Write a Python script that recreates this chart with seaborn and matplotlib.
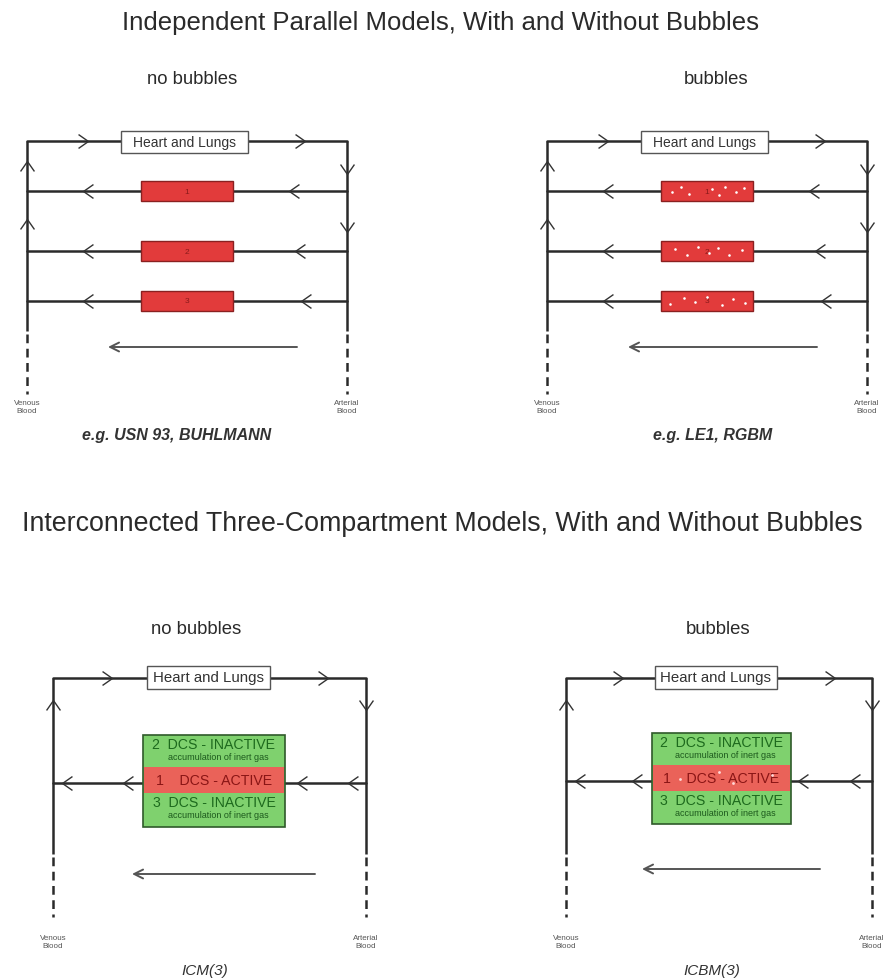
import numpy as np
import pandas as pd
import seaborn as sns
import matplotlib
matplotlib.use("Agg")
import matplotlib.pyplot as plt
from matplotlib.path import Path
from matplotlib.patches import Rectangle

# ---------------- content (text / values) ----------------
section_titles = ["Independent Parallel Models, With and Without Bubbles",
                  "Interconnected Three-Compartment Models, With and Without Bubbles"]
panel_labels = ["no bubbles", "bubbles", "no bubbles", "bubbles"]
panel_examples = ["e.g. USN 93, BUHLMANN", "e.g. LE1, RGBM", "ICM(3)", "ICBM(3)"]
parallel_compartments = ["1", "2", "3"]
icm_main = ["2  DCS - INACTIVE", "1    DCS - ACTIVE", "3  DCS - INACTIVE"]
icm_sub = ["accumulation of inert gas", "", "accumulation of inert gas"]
heart_label = "Heart and Lungs"
venous_label = "Venous\nBlood"
arterial_label = "Arterial\nBlood"
# bubble positions as fractions of a red compartment (x, y), one list per row
bubble_fx = [[0.12, 0.22, 0.30, 0.55, 0.63, 0.70, 0.82, 0.90],
             [0.15, 0.28, 0.40, 0.52, 0.62, 0.74, 0.88],
             [0.10, 0.25, 0.37, 0.50, 0.66, 0.78, 0.91]]
bubble_fy = [[0.55, 0.30, 0.65, 0.40, 0.70, 0.30, 0.55, 0.35],
             [0.40, 0.70, 0.30, 0.60, 0.35, 0.70, 0.45],
             [0.65, 0.35, 0.55, 0.30, 0.70, 0.40, 0.60]]
band_bubble_fx = [0.20, 0.48, 0.58, 0.86]
band_bubble_fy = [0.55, 0.25, 0.70, 0.40]

# ---------------- layout (pixel frame) ----------------
W, H = 884, 979
C_LINE = "#2a2a2a"
C_RED = "#e23b3b"
C_RED_EDGE = "#8a2020"
C_GREEN = "#7fd16e"
C_BAND = "#ea6259"

sns.set_theme(style="white")
plt.rcParams["font.family"] = ["Liberation Sans", "DejaVu Sans"]

fig = plt.figure(figsize=(W / 100, H / 100), dpi=100)
ax = fig.add_axes([0, 0, 1, 1])
ax.set_xlim(0, W)
ax.set_ylim(H, 0)
ax.axis("off")


def chev(direction):
    if direction == "r":
        v = [(-0.5, 0.7), (0.5, 0.0), (-0.5, -0.7)]
    elif direction == "l":
        v = [(0.5, 0.7), (-0.5, 0.0), (0.5, -0.7)]
    elif direction == "u":  # screen up (y axis inverted)
        v = [(-0.7, -0.5), (0.0, 0.5), (0.7, -0.5)]
    else:
        v = [(-0.7, 0.5), (0.0, -0.5), (0.7, 0.5)]
    return Path(v, [Path.MOVETO, Path.LINETO, Path.LINETO])


def arrows(xs, ys, d, ms=10):
    ax.plot(xs, ys, linestyle="none", marker=chev(d), ms=ms, mfc="none",
            mec="#333333", mew=1.0, zorder=4)


def frame(xl, xr, ytop, ysolid, ybot, hx0, hx1, hy0, hy1, hfs, lab_y):
    for x in (xl, xr):
        ax.plot([x, x], [ytop, ysolid], color=C_LINE, lw=1.8, solid_capstyle="butt", zorder=2)
        ax.plot([x, x], [ysolid + 3, ybot], color=C_LINE, lw=1.8, dashes=(3.5, 2.2), zorder=2)
    ax.plot([xl, xr], [ytop, ytop], color=C_LINE, lw=1.8, zorder=2)
    ax.add_patch(Rectangle((hx0, hy0), hx1 - hx0, hy1 - hy0, facecolor="white",
                           edgecolor="#555555", lw=1.0, zorder=5))
    ax.text((hx0 + hx1) / 2, (hy0 + hy1) / 2, heart_label, ha="center", va="center",
            fontsize=hfs, color="#333333", zorder=6)
    ax.text(xl, lab_y, venous_label, ha="center", va="center", fontsize=5.8,
            color="#555555", linespacing=1.2)
    ax.text(xr, lab_y, arterial_label, ha="center", va="center", fontsize=5.8,
            color="#555555", linespacing=1.2)


def long_arrow(x0, x1, y):
    ax.annotate("", xy=(x1, y), xytext=(x0, y),
                arrowprops=dict(arrowstyle="->", lw=1.4, color="#555555",
                                mutation_scale=16, shrinkA=0, shrinkB=0))


# ---------------- section titles ----------------
ax.text(440, 23, section_titles[0], ha="center", va="center", fontsize=18.5, color="#2a2a2a")
ax.text(442, 524, section_titles[1], ha="center", va="center", fontsize=19.3, color="#2a2a2a")

# ---------------- top panels: parallel ----------------
row_y = [192, 252, 302]
for p, (xl, xr, bx0, bx1, hx0, hx1, lab_x, ex_x) in enumerate([
        (27, 347, 141, 233, 121, 248, 192, 177),
        (547, 867, 661, 753, 641, 768, 716, 713)]):
    bubbles = p == 1
    ax.text(lab_x, 80, panel_labels[p], ha="center", va="center", fontsize=13.3, color="#2a2a2a")
    frame(xl, xr, 142, 332, 395, hx0, hx1, 132, 154, 10.0, 408)
    arrows([xl + 56, xr - 47], [142, 142], "r")
    arrows([xl, xl], [167, 225], "u")
    arrows([xr, xr], [170, 228], "d")
    for i, (y, name) in enumerate(zip(row_y, parallel_compartments)):
        ax.plot([xl, xr], [y, y], color=C_LINE, lw=1.8, zorder=2)
        ax.add_patch(Rectangle((bx0, y - 10), bx1 - bx0, 20, facecolor=C_RED,
                               edgecolor=C_RED_EDGE, lw=1.0, zorder=5))
        ax.text((bx0 + bx1) / 2, y, name, ha="center", va="center", fontsize=6,
                color="#8a1a1a", zorder=6)
        arrows([xl + 61], [y], "l")
        arrows([xr - 53 + 6 * i], [y], "l")
        if bubbles:
            bx = [bx0 + f * (bx1 - bx0) for f in bubble_fx[i]]
            by = [y - 10 + f * 20 for f in bubble_fy[i]]
            ax.scatter(bx, by, s=3.5, color="white", zorder=7, linewidths=0)
    long_arrow(xr - 50, xl + 81, 348)
    ax.text(ex_x, 436, panel_examples[p], ha="center", va="center", fontsize=11.5,
            style="italic", weight="bold", color="#333333")

# ---------------- bottom panels: interconnected ----------------
for p, (xl, xr, gx0, gx1, gy0, gy1, hx0, hx1, mid_y, la, lab_x, ex_x, arr) in enumerate([
        (53, 366, 143, 285, 736, 828, 147, 270, 784, (315, 132, 875), 196, 205,
         (67, 128, 302, 353, 107, 323)),
        (566, 872, 652, 791, 734, 825, 655, 777, 782, (820, 642, 870), 718, 712,
         (580, 637, 803, 855, 618, 830))]):
    bubbles = p == 1
    ax.text(lab_x, 630, panel_labels[p + 2], ha="center", va="center", fontsize=13.3, color="#2a2a2a")
    frame(xl, xr, 679, 855, 918, hx0, hx1, 667, 690, 10.8, 943)
    arrows([arr[4], arr[5]], [679, 679], "r")
    arrows([xl], [706], "u")
    arrows([xr], [706], "d")
    ax.plot([xl, xr], [mid_y, mid_y], color=C_LINE, lw=1.8, zorder=2)
    arrows(list(arr[:4]), [mid_y] * 4, "l")
    ax.add_patch(Rectangle((gx0, gy0), gx1 - gx0, gy1 - gy0, facecolor=C_GREEN,
                           edgecolor="#2f5a2a", lw=1.2, zorder=5))
    band0, band1 = mid_y - 16, mid_y + 10
    ax.add_patch(Rectangle((gx0 + 0.6, band0), gx1 - gx0 - 1.2, band1 - band0,
                           facecolor=C_BAND, edgecolor="none", zorder=6))
    cx = (gx0 + gx1) / 2
    ax.text(cx, gy0 + 9, icm_main[0], ha="center", va="center", fontsize=10.2,
            color="#1d6a1d", zorder=7)
    ax.text(cx + 4, gy0 + 22, icm_sub[0], ha="center", va="center", fontsize=6.5,
            color="#1d5a1d", zorder=7)
    ax.text(cx, (band0 + band1) / 2, icm_main[1], ha="center", va="center",
            fontsize=10.2, color="#8a1515", zorder=7)
    ax.text(cx, band1 + 9, icm_main[2], ha="center", va="center", fontsize=10.2,
            color="#1d6a1d", zorder=7)
    ax.text(cx + 4, band1 + 22, icm_sub[2], ha="center", va="center", fontsize=6.5,
            color="#1d5a1d", zorder=7)
    if bubbles:
        bx = [gx0 + f * (gx1 - gx0) for f in band_bubble_fx]
        by = [band0 + f * (band1 - band0) for f in band_bubble_fy]
        ax.scatter(bx, by, s=4, color="#ffd8d8", zorder=8, linewidths=0)
    long_arrow(la[0], la[1], la[2])
    ax.text(ex_x, 971, panel_examples[p + 2], ha="center", va="center", fontsize=11,
            style="italic", color="#333333")

fig.savefig("out.png", dpi=100, facecolor="white")
